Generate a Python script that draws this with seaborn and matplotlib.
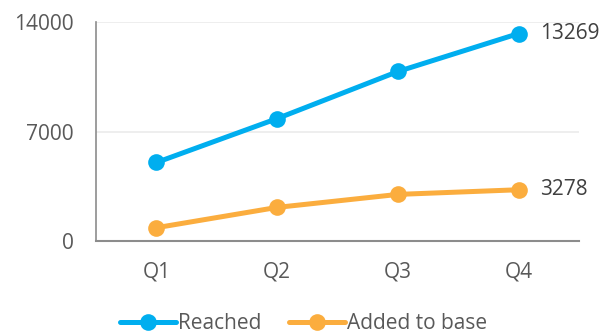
import seaborn as sns
import matplotlib.pyplot as plt
import pandas as pd

# dados
quarters = ['Q1', 'Q2', 'Q3', 'Q4']
reached = [5020, 7830, 10840, 13269]
added_to_base = [850, 2150, 2980, 3278]

df = pd.DataFrame({
    'quarter': quarters * 2,
    'value': reached + added_to_base,
    'serie': ['Reached'] * 4 + ['Added to base'] * 4,
})

sns.set_style('white')
plt.rcParams['font.family'] = ['Open Sans', 'DejaVu Sans']

text_color = '#595959'
colors = {'Reached': '#00AEEF', 'Added to base': '#FBAD3E'}

fig = plt.figure(figsize=(6.02, 3.35), dpi=100)
ax = fig.add_axes([0.1595, 0.2806, 0.8025, 0.6535])

sns.lineplot(data=df, x='quarter', y='value', hue='serie', palette=colors,
             marker='o', markersize=12, markeredgewidth=0, linewidth=3.6,
             sort=False, ax=ax)

ax.set_xlim(-0.5, 3.5)
ax.set_ylim(0, 14000)
ax.set_yticks([0, 7000, 14000])
ax.set_xlabel('')
ax.set_ylabel('')
ax.grid(axis='y', color='#EBEBEB', linewidth=1.2)
ax.set_axisbelow(True)

for side in ['top', 'right']:
    ax.spines[side].set_visible(False)
ax.spines['left'].set_color('#8C8C8C')
ax.spines['bottom'].set_color('#8C8C8C')
ax.spines['left'].set_linewidth(1.2)
ax.spines['bottom'].set_linewidth(1.5)

ax.tick_params(axis='both', length=0, labelsize=15, labelcolor=text_color)
ax.tick_params(axis='x', pad=15)
ax.tick_params(axis='y', pad=16)

# rotulos do ultimo ponto
for serie, vals in [('Reached', reached), ('Added to base', added_to_base)]:
    ax.annotate(f'{vals[-1]}', xy=(3, vals[-1]), xytext=(15, 0),
                textcoords='offset points', va='center', ha='left',
                fontsize=15, color='#404040', annotation_clip=False)

leg = ax.legend(loc='upper center', bbox_to_anchor=(0.43, -0.29), ncol=2,
                frameon=False, fontsize=15, handlelength=2.7,
                handletextpad=0.1, columnspacing=1.3, borderaxespad=0)
for t in leg.get_texts():
    t.set_color(text_color)

fig.savefig('out.png', dpi=100)
